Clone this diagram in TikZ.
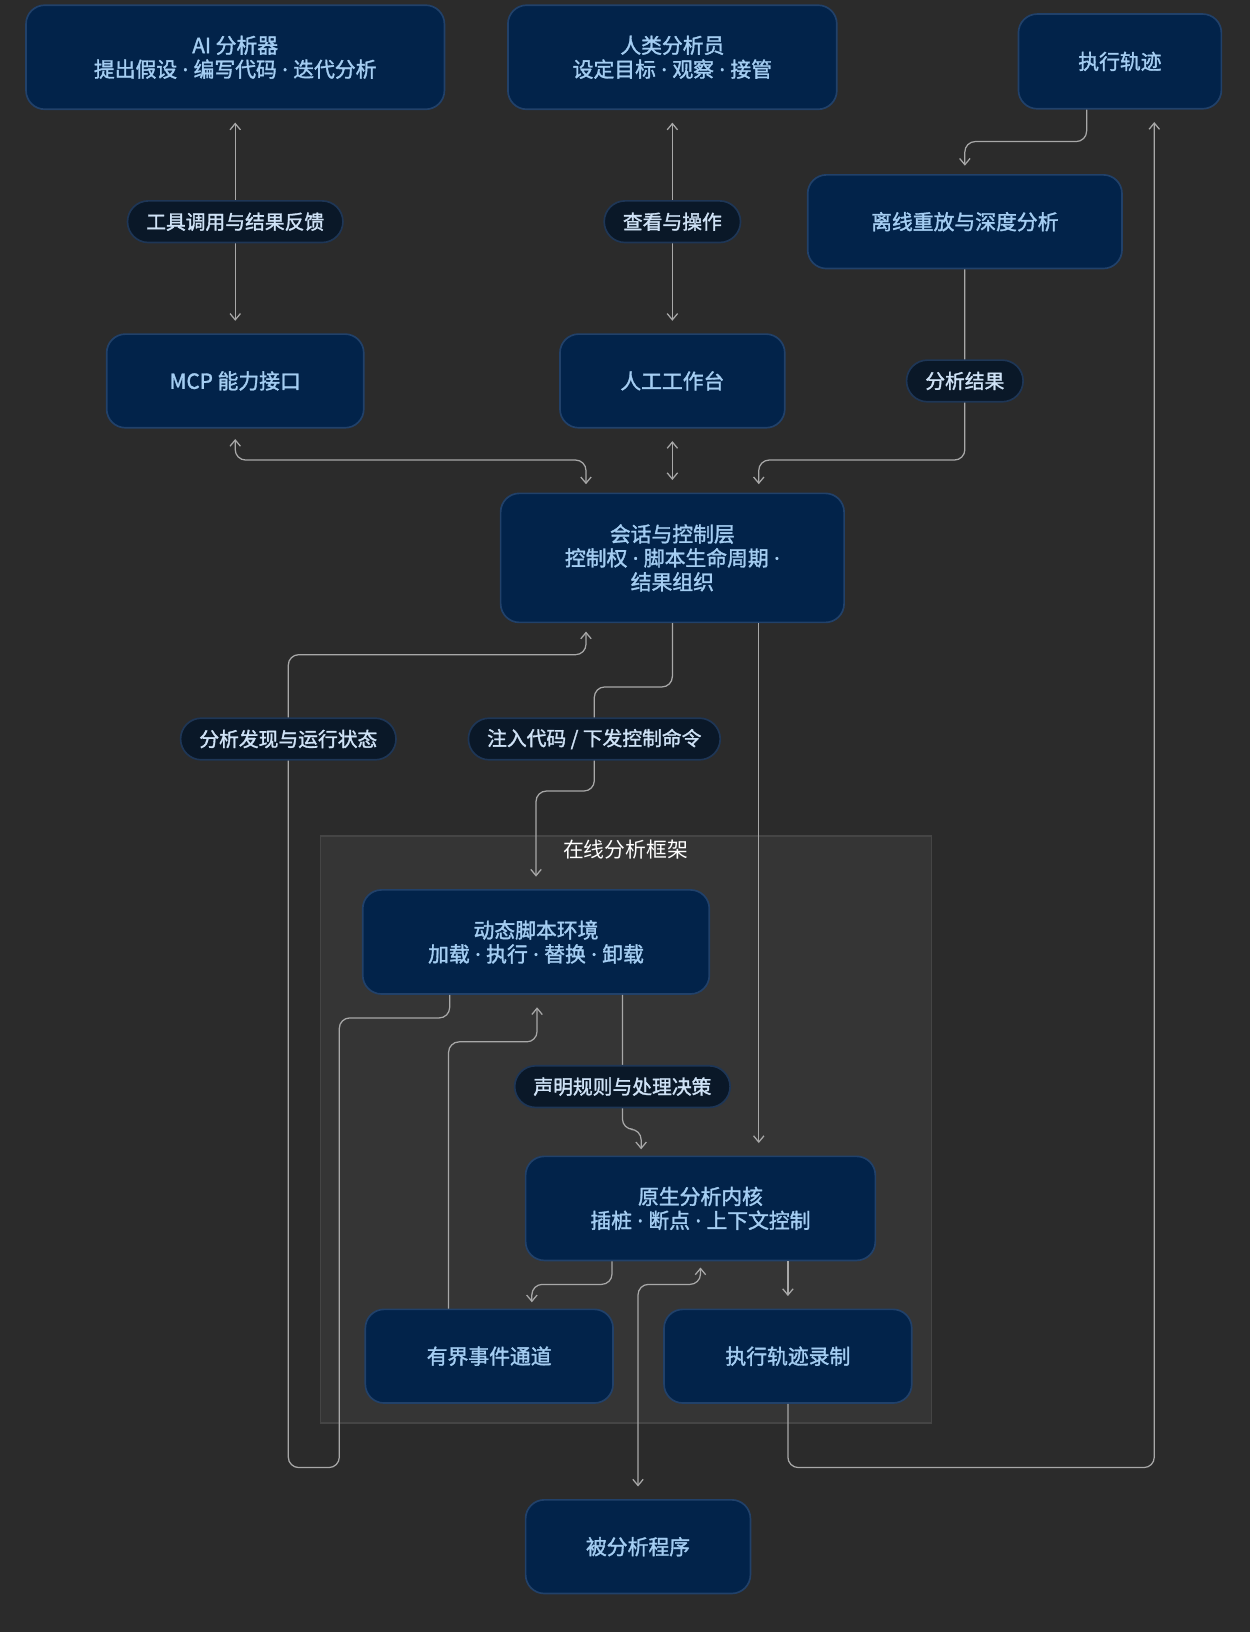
\documentclass[tikz,border=0pt]{standalone}
\usepackage{fontspec}
\setmainfont{Noto Sans CJK SC}
\newfontfamily\bcjk{Noto Sans CJK SC}[FakeBold=1.5]
\newfontfamily\latn{Noto Sans}[FakeBold=1.5]
\newcommand{\dt}{{\latn\ ·\ }}
\usetikzlibrary{arrows.meta}
\definecolor{bg}{HTML}{2B2B2B}
\definecolor{nfill}{HTML}{02234A}
\definecolor{nline}{HTML}{21416A}
\definecolor{ntext}{HTML}{A4CDF2}
\definecolor{lfill}{HTML}{0A1828}
\definecolor{lline}{HTML}{1E3656}
\definecolor{ltext}{HTML}{CFE2F6}
\definecolor{edge}{HTML}{A8A8A8}
\definecolor{frfill}{HTML}{353535}
\definecolor{frline}{HTML}{454545}
\tikzset{
 box/.style={draw=nline,line width=0.8pt,fill=nfill,rounded corners=9pt,text=ntext,font=\fontsize{10}{11.5}\selectfont\bcjk,align=center},
 lab/.style={draw=lline,line width=0.8pt,fill=lfill,rounded corners=10pt,text=ltext,font=\fontsize{9.5}{11}\selectfont\bcjk,minimum height=20pt,inner xsep=9pt,inner ysep=0pt},
 arr/.style={draw=edge,line width=0.6pt,rounded corners=5pt,-{Straight Barb[length=3pt,width=5pt]}},
 barr/.style={arr,{Straight Barb[length=3pt,width=5pt]}-{Straight Barb[length=3pt,width=5pt]}},
}
\begin{document}
\begin{tikzpicture}[x=0.5pt,y=-0.5pt]
\fill[bg] (0,0) rectangle (1201,1568);
\useasboundingbox (0,0) rectangle (1201,1568);
\draw[frline,fill=frfill,line width=0.8pt] (308,803) rectangle (895,1367);
\node[text=white,font=\fontsize{10}{12}\selectfont] (ft) at (601,816) {在线分析框架};
\node[box,minimum width=201pt,minimum height=50pt] (ai) at (226,55) {AI 分析器\\提出假设\dt 编写代码\dt 迭代分析};
\node[box,minimum width=158pt,minimum height=50pt] (hu) at (646,55) {人类分析员\\设定目标\dt 观察\dt 接管};
\node[box,minimum width=97.5pt,minimum height=45.5pt] (tr) at (1076,59) {执行轨迹};
\node[box,minimum width=151pt,minimum height=45pt] (off) at (927,213) {离线重放与深度分析};
\node[box,minimum width=123.5pt,minimum height=45pt] (mcp) at (226,366) {MCP 能力接口};
\node[box,minimum width=108pt,minimum height=45pt] (wb) at (646,366) {人工工作台};
\node[box,minimum width=165pt,minimum height=62pt] (ss) at (646,536) {会话与控制层\\控制权\dt 脚本生命周期\dt\\结果组织};
\node[box,minimum width=166.5pt,minimum height=50pt] (dy) at (515,905) {动态脚本环境\\加载\dt 执行\dt 替换\dt 卸载};
\node[box,minimum width=168pt,minimum height=50pt] (kn) at (673,1161) {原生分析内核\\插桩\dt 断点\dt 上下文控制};
\node[box,minimum width=119pt,minimum height=45pt] (ch) at (470,1303) {有界事件通道};
\node[box,minimum width=119pt,minimum height=45pt] (rc) at (757,1303) {执行轨迹录制};
\node[box,minimum width=108pt,minimum height=45pt] (tg) at (613,1486) {被分析程序};
% edges
\draw[barr,shorten <=6pt,shorten >=6pt] (ai) -- (mcp);
\draw[barr,shorten <=6pt,shorten >=6pt] (hu) -- (wb);
\draw[arr,shorten >=4pt] (1044,0 |- tr.south) -- (1044,136) -- (927,136) -- (off.north);
\draw[arr,shorten >=4pt] (off.south) -- (927,442) -- (729,442) -- (729,0 |- ss.north);
\draw[barr,shorten <=5pt,shorten >=4pt] (mcp.south) -- (226,442) -- (563,442) -- (563,0 |- ss.north);
\draw[barr,shorten <=6pt,shorten >=6pt] (wb) -- (ss);
\draw[arr,shorten >=6pt] (ss.south) -- (646,660) -- (571,660) -- (571,760) -- (515,760) -- (515,0 |- dy.north);
\draw[arr,shorten >=4pt] (432,0 |- dy.south) -- (432,978) -- (326,978) -- (326,1410) -- (277,1410) -- (277,629) -- (563,629) -- (563,0 |- ss.south);
\draw[arr,shorten >=6pt] (431,0 |- ch.north) -- (431,1001) -- (516,1001) -- (516,0 |- dy.south);
\draw[arr,shorten >=3pt] (598,0 |- dy.south) -- (598,1085) -- (616,1085) -- (616,0 |- kn.north);
\draw[arr,shorten >=6pt] (729,0 |- ss.south) -- (729,0 |- kn.north);
\draw[arr,shorten >=3pt] (588,0 |- kn.south) -- (588,1234) -- (511,1234) -- (511,0 |- ch.north);
\draw[arr,shorten >=6pt] (757,0 |- kn.south) -- (757,0 |- rc.north);
\draw[barr,shorten <=3pt,shorten >=6pt] (673,0 |- kn.south) -- (673,1234) -- (613,1234) -- (tg.north);
\draw[arr,shorten >=6pt] (rc.south) -- (757,1410) -- (1109,1410) -- (1109,0 |- tr.south);
% labels
\node[lab] (l1) at (226,213) {工具调用与结果反馈};
\node[lab] (l2) at (646,213) {查看与操作};
\node[lab] (l3) at (927,366) {分析结果};
\node[lab] (l4) at (277,710) {分析发现与运行状态};
\node[lab] (l5) at (571,710) {注入代码 / 下发控制命令};
\node[lab] (l6) at (598,1044) {声明规则与处理决策};
\end{tikzpicture}
\end{document}
